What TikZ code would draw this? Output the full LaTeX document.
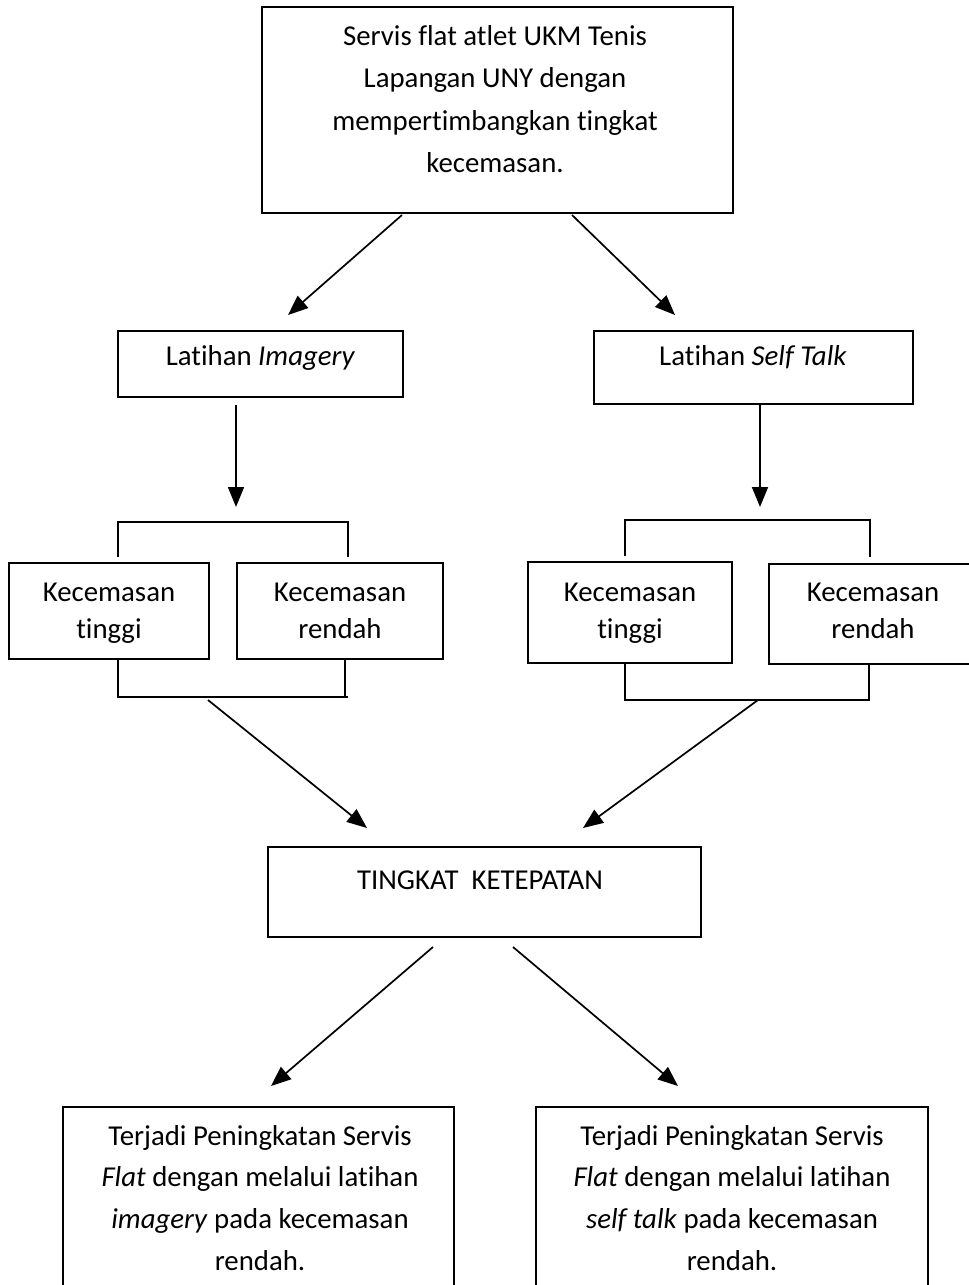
\documentclass[tikz,border=0pt]{standalone}
\usepackage{fontspec}
\setmainfont{Carlito}[Ligatures={CommonOff,ContextualOff,RareOff},RawFeature=-calt]
\usetikzlibrary{arrows.meta}
\begin{document}
\begin{tikzpicture}[x=1pt,y=-1pt,
  box/.style={draw, line width=1.7pt, rectangle, inner sep=0pt},
  txt/.style={inner sep=0pt, align=center, anchor=north},
  oneline/.style={inner sep=0pt, anchor=base},
  arr/.style={line width=1.7pt, -{Triangle[length=20pt,width=16pt]}},
  brk/.style={line width=1.7pt},
  big/.style={font=\fontsize{28.8}{42.5}\selectfont},
  mid/.style={font=\fontsize{28.8}{37}\selectfont},
  low/.style={font=\fontsize{28.8}{41.7}\selectfont}]
\useasboundingbox (0,0) rectangle (969,1285);
% boxes
\node[box, minimum width=471pt, minimum height=206pt] (top) at (497.5,110) {};
\node[box, minimum width=285pt, minimum height=66pt] (imag) at (260.5,364) {};
\node[box, minimum width=319pt, minimum height=73pt] (self) at (753.5,367.5) {};
\node[box, minimum width=200pt, minimum height=96pt] (kt1) at (109,611) {};
\node[box, minimum width=206pt, minimum height=96pt] (kr1) at (340,611) {};
\node[box, minimum width=204pt, minimum height=101pt] (kt2) at (630,612.5) {};
\node[box, minimum width=208pt, minimum height=100pt] (kr2) at (873,614) {};
\node[box, minimum width=433pt, minimum height=90pt] (ting) at (484.5,892) {};
\node[box, minimum width=391pt, minimum height=193pt] (res1) at (258.5,1203.5) {};
\node[box, minimum width=392pt, minimum height=193pt] (res2) at (732,1203.5) {};
% texts
\node[txt, big] (ttop) at (495,15.25) {\strut Servis flat atlet UKM Tenis\\Lapangan UNY dengan\\mempertimbangkan tingkat\\kecemasan.};
\node[oneline, big] (timag) at (260.5,365) {Latihan \textit{Imagery}};
\node[oneline, big] (tself) at (753,365) {Latihan \textit{Self Talk}};
\node[txt, mid] (tkt1) at (109,575.1) {\strut Kecemasan\\tinggi};
\node[txt, mid] (tkr1) at (340,575.1) {\strut Kecemasan\\rendah};
\node[txt, mid] (tkt2) at (630,575.1) {\strut Kecemasan\\tinggi};
\node[txt, mid] (tkr2) at (873,575.1) {\strut Kecemasan\\rendah};
\node[oneline, big] (tting) at (480,889) {TINGKAT\ \ KETEPATAN};
\node[txt, low] (tres1) at (260,1115.8) {\strut Terjadi Peningkatan Servis\\\textit{Flat} dengan melalui latihan\\\textit{imagery} pada kecemasan\\rendah.};
\node[txt, low] (tres2) at (732,1115.8) {\strut Terjadi Peningkatan Servis\\\textit{Flat} dengan melalui latihan\\\textit{self talk} pada kecemasan\\rendah.};
% connector end points
\coordinate (a1s) at (402,215); \coordinate (a1e) at (288,315);
\coordinate (a2s) at (572,215); \coordinate (a2e) at (675,315);
\coordinate (a3s) at (236,405); \coordinate (a3e) at (236,507);
\coordinate (a4s) at (760,405); \coordinate (a4e) at (760,507);
\coordinate (a5s) at (208,700); \coordinate (a5e) at (367,828);
\coordinate (a6s) at (758,700); \coordinate (a6e) at (583,828);
\coordinate (a7s) at (433,947); \coordinate (a7e) at (271,1086);
\coordinate (a8s) at (513,947); \coordinate (a8e) at (678,1086);
\draw[arr] (a1s) -- (a1e);
\draw[arr] (a2s) -- (a2e);
\draw[arr] (a3s) -- (a3e);
\draw[arr] (a4s) -- (a4e);
\draw[arr] (a5s) -- (a5e);
\draw[arr] (a6s) -- (a6e);
\draw[arr] (a7s) -- (a7e);
\draw[arr] (a8s) -- (a8e);
% brackets
\draw[brk] (118,557) -- (118,522) -- (348,522) -- (348,557);
\draw[brk] (118,660) -- (118,697) -- (348,697);
\draw[brk] (345,660) -- (345,697);
\draw[brk] (625,556) -- (625,520) -- (870,520) -- (870,557);
\draw[brk] (625,663) -- (625,700) -- (869,700) -- (869,663);
\end{tikzpicture}
\end{document}
